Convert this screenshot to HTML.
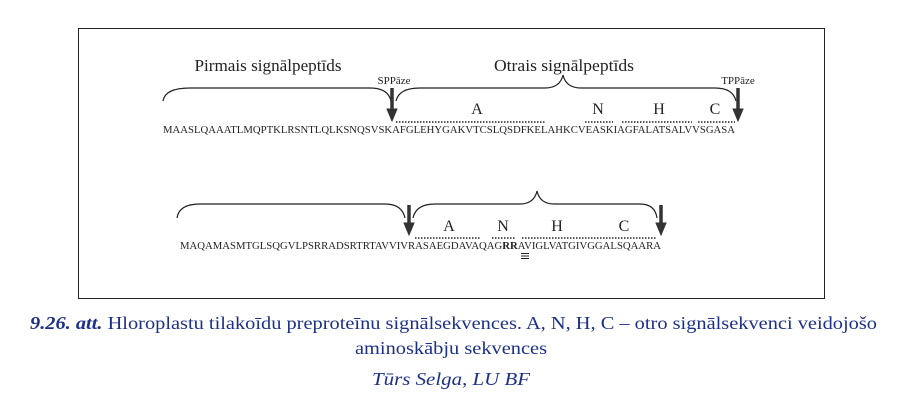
<!DOCTYPE html>
<html><head><meta charset="utf-8"><style>
body{margin:0;background:#fff;width:918px;height:405px;overflow:hidden}
svg{display:block}
</style></head><body>
<svg width="918" height="405" viewBox="0 0 918 405" xmlns="http://www.w3.org/2000/svg" font-family="Liberation Serif, serif">
<rect x="78.5" y="28.5" width="746" height="270" fill="none" stroke="#222" stroke-width="1"/>
<g fill="#222">
<text x="268" y="71" font-size="16.5" text-anchor="middle" textLength="147" lengthAdjust="spacingAndGlyphs">Pirmais signālpeptīds</text>
<text x="564" y="71" font-size="16.5" text-anchor="middle" textLength="140" lengthAdjust="spacingAndGlyphs">Otrais signālpeptīds</text>
<text x="394" y="84" font-size="11" text-anchor="middle">SPPāze</text>
<text x="738" y="84" font-size="11" text-anchor="middle">TPPāze</text>
<g font-size="16" text-anchor="middle">
<text x="477" y="114">A</text><text x="598" y="114">N</text><text x="659" y="114">H</text><text x="715" y="114">C</text>
<text x="449" y="231">A</text><text x="503" y="231">N</text><text x="557" y="231">H</text><text x="624" y="231">C</text>
</g>
<text x="163" y="133" font-size="10" textLength="572" lengthAdjust="spacingAndGlyphs">MAASLQAAATLMQPTKLRSNTLQLKSNQSVSKAFGLEHYGAKVTCSLQSDFKELAHKCVEASKIAGFALATSALVVSGASA</text>
<text x="180" y="249" font-size="10" textLength="481" lengthAdjust="spacingAndGlyphs">MAQAMASMTGLSQGVLPSRRADSRTRTAVVIVRASAEGDAVAQAG<tspan font-weight="bold">RR</tspan>AVIGLVATGIVGGALSQAARA</text>
</g>
<g fill="none" stroke="#222" stroke-width="1.2">
<path d="M163 101 Q165 88 190 88 L370 88 Q388 88 391 101"/>
<path d="M396 101 Q399 88 420 88 L545 88 Q560 88 563 75 Q566 88 581 88 L715 88 Q733 88 736 101"/>
<path d="M177 218 Q179 204 200 204 L385 204 Q402 204 405 218"/>
<path d="M413 218 Q416 204 435 204 L520 204 Q534 204 537 191 Q540 204 554 204 L640 204 Q655 204 657 218"/>
</g>
<g stroke="#222" stroke-width="1.5" stroke-dasharray="1.5 1.5">
<line x1="396" y1="122" x2="545" y2="122"/><line x1="585" y1="122" x2="613" y2="122"/>
<line x1="622" y1="122" x2="692" y2="122"/><line x1="698" y1="122" x2="735" y2="122"/>
<line x1="415" y1="238" x2="480" y2="238"/><line x1="492" y1="238" x2="515" y2="238"/>
<line x1="522" y1="238" x2="656" y2="238"/>
</g>
<g stroke="#222" stroke-width="1"><line x1="521" y1="253.5" x2="529" y2="253.5"/><line x1="521" y1="256" x2="529" y2="256"/><line x1="521" y1="258.5" x2="529" y2="258.5"/></g>
<g fill="#333" stroke="#333">
<line x1="392" y1="88" x2="392" y2="110" stroke-width="3.5"/><path d="M387 109 L397 109 L392 121 Z"/>
<line x1="738" y1="88" x2="738" y2="110" stroke-width="3.5"/><path d="M733 109 L743 109 L738 121 Z"/>
<line x1="409" y1="205" x2="409" y2="224" stroke-width="3.5"/><path d="M404 223 L414 223 L409 235 Z"/>
<line x1="661" y1="205" x2="661" y2="224" stroke-width="3.5"/><path d="M656 223 L666 223 L661 235 Z"/>
</g>
<g fill="#1c3087" font-size="18">
<text x="30" y="329" textLength="847" lengthAdjust="spacingAndGlyphs"><tspan font-weight="bold" font-style="italic">9.26. att.</tspan> Hloroplastu tilakoīdu preproteīnu signālsekvences. A, N, H, C – otro signālsekvenci veidojošo</text>
<text x="355" y="354" textLength="192" lengthAdjust="spacingAndGlyphs">aminoskābju sekvences</text>
<text x="372" y="385" font-style="italic" textLength="158" lengthAdjust="spacingAndGlyphs">Tūrs Selga, LU BF</text>
</g>
</svg>
</body></html>
